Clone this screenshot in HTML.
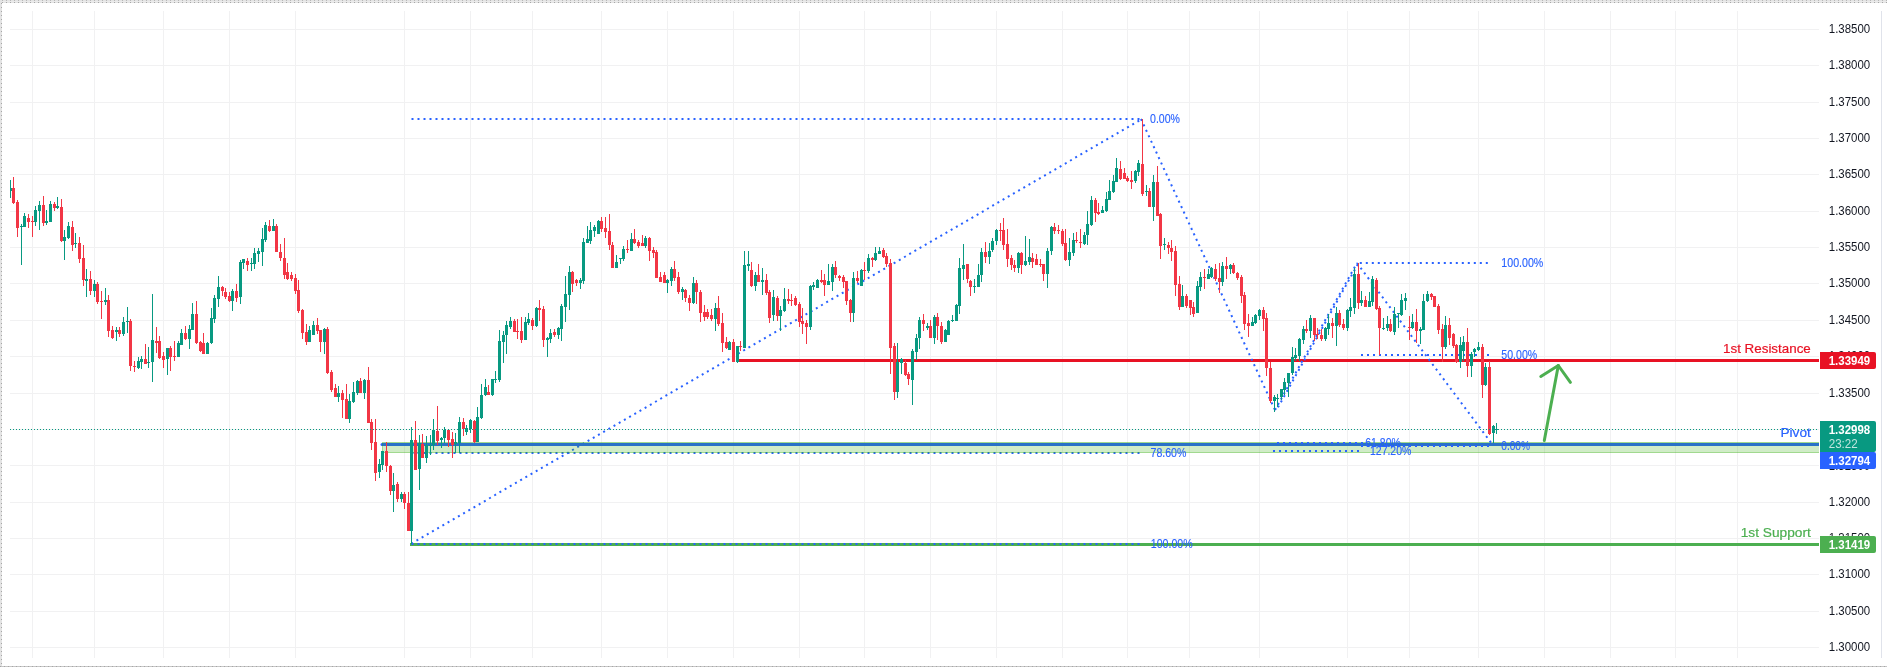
<!DOCTYPE html>
<html lang="en"><head><meta charset="utf-8"><title>GBPUSD chart</title>
<style>html,body{margin:0;padding:0;background:#fff}body{width:1887px;height:667px;overflow:hidden}svg{display:block;will-change:transform}text{font-family:"Liberation Sans",sans-serif}</style>
</head><body>
<svg width="1887" height="667" viewBox="0 0 1887 667">
<rect width="1887" height="667" fill="#fff"/>
<g shape-rendering="crispEdges">
<rect x="0" y="0" width="1887" height="3" fill="#e3e3e3"/>
<rect x="0" y="1" width="1887" height="1" fill="#ebebeb"/>
<rect x="0" y="0" width="2" height="667" fill="#e3e3e3"/>
<rect x="0" y="666" width="1887" height="1" fill="#c6c6c6"/>
<line x1="2" y1="2.5" x2="1887" y2="2.5" stroke="#a6a6a6" stroke-dasharray="1 3"/>
<line x1="0" y1="0.5" x2="1887" y2="0.5" stroke="#b8b8b8" stroke-dasharray="1 3" stroke-dashoffset="2"/>
<line x1="1.5" y1="3" x2="1.5" y2="667" stroke="#a6a6a6" stroke-dasharray="1 3"/>
<line x1="0" y1="666.5" x2="1887" y2="666.5" stroke="#a6a6a6" stroke-dasharray="1 3"/>
</g>
<g shape-rendering="crispEdges" fill="#f1f1f2">
<rect x="32" y="11" width="1" height="647"/>
<rect x="94" y="11" width="1" height="647"/>
<rect x="163" y="11" width="1" height="647"/>
<rect x="229" y="11" width="1" height="647"/>
<rect x="295" y="11" width="1" height="647"/>
<rect x="404" y="11" width="1" height="647"/>
<rect x="470" y="11" width="1" height="647"/>
<rect x="532" y="11" width="1" height="647"/>
<rect x="601" y="11" width="1" height="647"/>
<rect x="667" y="11" width="1" height="647"/>
<rect x="733" y="11" width="1" height="647"/>
<rect x="799" y="11" width="1" height="647"/>
<rect x="864" y="11" width="1" height="647"/>
<rect x="930" y="11" width="1" height="647"/>
<rect x="996" y="11" width="1" height="647"/>
<rect x="1062" y="11" width="1" height="647"/>
<rect x="1127" y="11" width="1" height="647"/>
<rect x="1189" y="11" width="1" height="647"/>
<rect x="1259" y="11" width="1" height="647"/>
<rect x="1347" y="11" width="1" height="647"/>
<rect x="1409" y="11" width="1" height="647"/>
<rect x="1478" y="11" width="1" height="647"/>
<rect x="1544" y="11" width="1" height="647"/>
<rect x="1610" y="11" width="1" height="647"/>
<rect x="1675" y="11" width="1" height="647"/>
<rect x="1737" y="11" width="1" height="647"/>
<rect x="10" y="29" width="1809" height="1"/>
<rect x="10" y="65" width="1809" height="1"/>
<rect x="10" y="102" width="1809" height="1"/>
<rect x="10" y="138" width="1809" height="1"/>
<rect x="10" y="174" width="1809" height="1"/>
<rect x="10" y="211" width="1809" height="1"/>
<rect x="10" y="247" width="1809" height="1"/>
<rect x="10" y="283" width="1809" height="1"/>
<rect x="10" y="320" width="1809" height="1"/>
<rect x="10" y="356" width="1809" height="1"/>
<rect x="10" y="393" width="1809" height="1"/>
<rect x="10" y="429" width="1809" height="1"/>
<rect x="10" y="465" width="1809" height="1"/>
<rect x="10" y="502" width="1809" height="1"/>
<rect x="10" y="538" width="1809" height="1"/>
<rect x="10" y="574" width="1809" height="1"/>
<rect x="10" y="611" width="1809" height="1"/>
<rect x="10" y="647" width="1809" height="1"/>
<rect x="1881" y="11" width="1" height="647" fill="#e0e3eb"/>
</g>
<g font-size="12.5" fill="#131722">
<text x="1828.8" y="33.1" textLength="41.4" lengthAdjust="spacingAndGlyphs">1.38500</text>
<text x="1828.8" y="69.1" textLength="41.4" lengthAdjust="spacingAndGlyphs">1.38000</text>
<text x="1828.8" y="106.1" textLength="41.4" lengthAdjust="spacingAndGlyphs">1.37500</text>
<text x="1828.8" y="142.1" textLength="41.4" lengthAdjust="spacingAndGlyphs">1.37000</text>
<text x="1828.8" y="178.1" textLength="41.4" lengthAdjust="spacingAndGlyphs">1.36500</text>
<text x="1828.8" y="215.1" textLength="41.4" lengthAdjust="spacingAndGlyphs">1.36000</text>
<text x="1828.8" y="251.1" textLength="41.4" lengthAdjust="spacingAndGlyphs">1.35500</text>
<text x="1828.8" y="287.1" textLength="41.4" lengthAdjust="spacingAndGlyphs">1.35000</text>
<text x="1828.8" y="324.1" textLength="41.4" lengthAdjust="spacingAndGlyphs">1.34500</text>
<text x="1828.8" y="360.1" textLength="41.4" lengthAdjust="spacingAndGlyphs">1.34000</text>
<text x="1828.8" y="397.1" textLength="41.4" lengthAdjust="spacingAndGlyphs">1.33500</text>
<text x="1828.8" y="433.1" textLength="41.4" lengthAdjust="spacingAndGlyphs">1.33000</text>
<text x="1828.8" y="469.8" textLength="41.4" lengthAdjust="spacingAndGlyphs">1.32500</text>
<text x="1828.8" y="506.1" textLength="41.4" lengthAdjust="spacingAndGlyphs">1.32000</text>
<text x="1828.8" y="542.1" textLength="41.4" lengthAdjust="spacingAndGlyphs">1.31500</text>
<text x="1828.8" y="578.1" textLength="41.4" lengthAdjust="spacingAndGlyphs">1.31000</text>
<text x="1828.8" y="615.1" textLength="41.4" lengthAdjust="spacingAndGlyphs">1.30500</text>
<text x="1828.8" y="651.1" textLength="41.4" lengthAdjust="spacingAndGlyphs">1.30000</text>
</g>
<g shape-rendering="crispEdges">
<rect x="737" y="359" width="1082" height="3" fill="#e81224"/>
<rect x="410" y="543" width="1409" height="3" fill="#4caf50"/>
</g>
<g stroke="#2962ff" stroke-width="2" stroke-dasharray="2 4" fill="none">
<line x1="410" y1="119" x2="1141" y2="119" stroke-dashoffset="-1.5"/>
<line x1="410" y1="544.5" x2="1141" y2="119.5" stroke-dashoffset="-1.5"/>
<line x1="410" y1="453" x2="1140" y2="453" stroke-dashoffset="-1.5"/>
<line x1="410" y1="544" x2="1140" y2="544" stroke-dashoffset="-1.5"/>
</g>
<line x1="382" y1="444.5" x2="1819" y2="444.5" stroke="#2962ff" stroke-width="3"/>
<circle cx="382" cy="444.5" r="1.5" fill="#2962ff"/>
<g shape-rendering="crispEdges" fill="rgb(41,169,0)">
<rect x="383" y="443" width="1436" height="9" fill-opacity="0.22"/>
<rect x="382" y="442" width="1437" height="1" fill-opacity="0.44"/>
<rect x="382" y="452" width="1437" height="1" fill-opacity="0.44"/>
<rect x="382" y="443" width="1" height="9" fill-opacity="0.44"/>
</g>
<g font-size="12" fill="#2962ff" stroke="#2962ff" stroke-width="0.12">
<text x="1150" y="122.9" textLength="30.0" lengthAdjust="spacingAndGlyphs">0.00%</text>
<text x="1150.5" y="457.4" textLength="35.9" lengthAdjust="spacingAndGlyphs">78.60%</text>
<text x="1150.8" y="548.3" textLength="41.9" lengthAdjust="spacingAndGlyphs">100.00%</text>
</g>
<g stroke="#2962ff" stroke-width="2" stroke-dasharray="2 4" fill="none">
<line x1="1141" y1="119" x2="1275" y2="410"/>
<line x1="1275" y1="410" x2="1357" y2="263"/>
<line x1="1276.5" y1="410" x2="1358.5" y2="263" stroke-dashoffset="3"/>
<line x1="1357" y1="263" x2="1492" y2="444"/>
<line x1="1357" y1="263" x2="1490" y2="263" stroke-dashoffset="-2.8"/>
<line x1="1361" y1="355" x2="1490" y2="355"/>
<line x1="1361" y1="446" x2="1490" y2="446"/>
<line x1="1277" y1="443" x2="1363" y2="443"/>
<line x1="1273" y1="451" x2="1360" y2="451"/>
</g>
<g font-size="12" fill="#2962ff" stroke="#2962ff" stroke-width="0.12">
<text x="1501.3" y="267.3" textLength="42.0" lengthAdjust="spacingAndGlyphs">100.00%</text>
<text x="1501.3" y="358.9" textLength="35.9" lengthAdjust="spacingAndGlyphs">50.00%</text>
<text x="1501.3" y="449.8" textLength="28.7" lengthAdjust="spacingAndGlyphs">0.00%</text>
<text x="1365.3" y="446.9" textLength="35.5" lengthAdjust="spacingAndGlyphs">61.80%</text>
<text x="1370" y="455.3" textLength="41.3" lengthAdjust="spacingAndGlyphs">127.20%</text>
</g>
<g shape-rendering="crispEdges">
<rect x="10" y="180" width="1" height="18" fill="#089981"/><rect x="10" y="188" width="2" height="3" fill="#089981"/>
<rect x="13" y="177" width="1" height="27" fill="#f23645"/><rect x="12" y="188" width="3" height="15" fill="#f23645"/>
<rect x="17" y="200" width="1" height="37" fill="#f23645"/><rect x="16" y="202" width="3" height="26" fill="#f23645"/>
<rect x="21" y="224" width="1" height="41" fill="#089981"/><rect x="20" y="226" width="3" height="1" fill="#089981"/>
<rect x="24" y="213" width="1" height="14" fill="#089981"/><rect x="23" y="216" width="3" height="11" fill="#089981"/>
<rect x="28" y="214" width="1" height="14" fill="#f23645"/><rect x="27" y="218" width="3" height="4" fill="#f23645"/>
<rect x="32" y="216" width="1" height="21" fill="#f23645"/><rect x="31" y="221" width="3" height="1" fill="#f23645"/>
<rect x="35" y="206" width="1" height="20" fill="#089981"/><rect x="34" y="210" width="3" height="12" fill="#089981"/>
<rect x="39" y="201" width="1" height="29" fill="#089981"/><rect x="38" y="205" width="3" height="6" fill="#089981"/>
<rect x="43" y="196" width="1" height="30" fill="#f23645"/><rect x="42" y="205" width="3" height="18" fill="#f23645"/>
<rect x="46" y="210" width="1" height="15" fill="#089981"/><rect x="45" y="221" width="3" height="2" fill="#089981"/>
<rect x="50" y="201" width="1" height="21" fill="#089981"/><rect x="49" y="204" width="3" height="18" fill="#089981"/>
<rect x="54" y="202" width="1" height="9" fill="#f23645"/><rect x="53" y="204" width="3" height="4" fill="#f23645"/>
<rect x="57" y="197" width="1" height="12" fill="#089981"/><rect x="56" y="206" width="3" height="2" fill="#089981"/>
<rect x="61" y="199" width="1" height="43" fill="#f23645"/><rect x="60" y="207" width="3" height="34" fill="#f23645"/>
<rect x="64" y="230" width="1" height="30" fill="#089981"/><rect x="63" y="237" width="3" height="4" fill="#089981"/>
<rect x="68" y="222" width="1" height="17" fill="#089981"/><rect x="67" y="226" width="3" height="12" fill="#089981"/>
<rect x="72" y="221" width="1" height="30" fill="#f23645"/><rect x="71" y="227" width="3" height="18" fill="#f23645"/>
<rect x="75" y="233" width="1" height="15" fill="#089981"/><rect x="74" y="243" width="3" height="1" fill="#089981"/>
<rect x="79" y="237" width="1" height="26" fill="#f23645"/><rect x="78" y="243" width="3" height="16" fill="#f23645"/>
<rect x="83" y="245" width="1" height="41" fill="#f23645"/><rect x="82" y="258" width="3" height="22" fill="#f23645"/>
<rect x="86" y="269" width="1" height="28" fill="#089981"/><rect x="85" y="279" width="3" height="2" fill="#089981"/>
<rect x="90" y="271" width="1" height="24" fill="#f23645"/><rect x="89" y="279" width="3" height="12" fill="#f23645"/>
<rect x="94" y="280" width="1" height="17" fill="#089981"/><rect x="93" y="284" width="3" height="7" fill="#089981"/>
<rect x="97" y="282" width="1" height="22" fill="#f23645"/><rect x="96" y="284" width="3" height="18" fill="#f23645"/>
<rect x="101" y="291" width="1" height="28" fill="#f23645"/><rect x="100" y="301" width="3" height="1" fill="#f23645"/>
<rect x="105" y="288" width="1" height="17" fill="#089981"/><rect x="104" y="300" width="3" height="2" fill="#089981"/>
<rect x="108" y="295" width="1" height="42" fill="#f23645"/><rect x="107" y="300" width="3" height="31" fill="#f23645"/>
<rect x="112" y="326" width="1" height="13" fill="#f23645"/><rect x="111" y="330" width="3" height="8" fill="#f23645"/>
<rect x="116" y="327" width="1" height="14" fill="#089981"/><rect x="115" y="330" width="3" height="2" fill="#089981"/>
<rect x="119" y="327" width="1" height="10" fill="#f23645"/><rect x="118" y="330" width="3" height="4" fill="#f23645"/>
<rect x="123" y="317" width="1" height="19" fill="#089981"/><rect x="122" y="322" width="3" height="12" fill="#089981"/>
<rect x="127" y="307" width="1" height="26" fill="#089981"/><rect x="126" y="321" width="3" height="1" fill="#089981"/>
<rect x="130" y="319" width="1" height="52" fill="#f23645"/><rect x="129" y="321" width="3" height="45" fill="#f23645"/>
<rect x="134" y="361" width="1" height="11" fill="#f23645"/><rect x="133" y="366" width="3" height="1" fill="#f23645"/>
<rect x="138" y="357" width="1" height="12" fill="#089981"/><rect x="137" y="361" width="3" height="7" fill="#089981"/>
<rect x="141" y="356" width="1" height="13" fill="#089981"/><rect x="140" y="359" width="3" height="3" fill="#089981"/>
<rect x="145" y="344" width="1" height="20" fill="#f23645"/><rect x="144" y="359" width="3" height="5" fill="#f23645"/>
<rect x="148" y="347" width="1" height="21" fill="#089981"/><rect x="147" y="362" width="3" height="1" fill="#089981"/>
<rect x="152" y="294" width="1" height="88" fill="#089981"/><rect x="151" y="340" width="3" height="22" fill="#089981"/>
<rect x="156" y="327" width="1" height="26" fill="#f23645"/><rect x="155" y="341" width="3" height="2" fill="#f23645"/>
<rect x="159" y="336" width="1" height="23" fill="#f23645"/><rect x="158" y="341" width="3" height="17" fill="#f23645"/>
<rect x="163" y="352" width="1" height="16" fill="#f23645"/><rect x="162" y="356" width="3" height="4" fill="#f23645"/>
<rect x="167" y="348" width="1" height="27" fill="#089981"/><rect x="166" y="348" width="3" height="11" fill="#089981"/>
<rect x="170" y="346" width="1" height="25" fill="#f23645"/><rect x="169" y="348" width="3" height="9" fill="#f23645"/>
<rect x="174" y="341" width="1" height="20" fill="#f23645"/><rect x="173" y="356" width="3" height="1" fill="#f23645"/>
<rect x="178" y="341" width="1" height="16" fill="#089981"/><rect x="177" y="343" width="3" height="14" fill="#089981"/>
<rect x="181" y="329" width="1" height="16" fill="#089981"/><rect x="180" y="333" width="3" height="12" fill="#089981"/>
<rect x="185" y="326" width="1" height="14" fill="#f23645"/><rect x="184" y="333" width="3" height="6" fill="#f23645"/>
<rect x="189" y="325" width="1" height="24" fill="#089981"/><rect x="188" y="329" width="3" height="10" fill="#089981"/>
<rect x="192" y="303" width="1" height="27" fill="#089981"/><rect x="191" y="314" width="3" height="16" fill="#089981"/>
<rect x="196" y="301" width="1" height="43" fill="#f23645"/><rect x="195" y="314" width="3" height="29" fill="#f23645"/>
<rect x="200" y="341" width="1" height="11" fill="#f23645"/><rect x="199" y="342" width="3" height="9" fill="#f23645"/>
<rect x="203" y="333" width="1" height="21" fill="#f23645"/><rect x="202" y="343" width="3" height="11" fill="#f23645"/>
<rect x="207" y="342" width="1" height="12" fill="#089981"/><rect x="206" y="343" width="3" height="11" fill="#089981"/>
<rect x="211" y="308" width="1" height="36" fill="#089981"/><rect x="210" y="318" width="3" height="25" fill="#089981"/>
<rect x="214" y="295" width="1" height="28" fill="#089981"/><rect x="213" y="298" width="3" height="21" fill="#089981"/>
<rect x="218" y="276" width="1" height="31" fill="#089981"/><rect x="217" y="287" width="3" height="12" fill="#089981"/>
<rect x="222" y="286" width="1" height="10" fill="#f23645"/><rect x="221" y="287" width="3" height="4" fill="#f23645"/>
<rect x="225" y="288" width="1" height="11" fill="#f23645"/><rect x="224" y="292" width="3" height="5" fill="#f23645"/>
<rect x="229" y="292" width="1" height="10" fill="#f23645"/><rect x="228" y="296" width="3" height="5" fill="#f23645"/>
<rect x="232" y="289" width="1" height="22" fill="#089981"/><rect x="231" y="291" width="3" height="10" fill="#089981"/>
<rect x="236" y="284" width="1" height="18" fill="#f23645"/><rect x="235" y="291" width="3" height="7" fill="#f23645"/>
<rect x="240" y="260" width="1" height="44" fill="#089981"/><rect x="239" y="262" width="3" height="35" fill="#089981"/>
<rect x="243" y="259" width="1" height="10" fill="#089981"/><rect x="242" y="259" width="3" height="4" fill="#089981"/>
<rect x="247" y="258" width="1" height="13" fill="#f23645"/><rect x="246" y="261" width="3" height="4" fill="#f23645"/>
<rect x="251" y="258" width="1" height="13" fill="#089981"/><rect x="250" y="263" width="3" height="1" fill="#089981"/>
<rect x="254" y="248" width="1" height="21" fill="#089981"/><rect x="253" y="253" width="3" height="11" fill="#089981"/>
<rect x="258" y="248" width="1" height="14" fill="#089981"/><rect x="257" y="251" width="3" height="3" fill="#089981"/>
<rect x="262" y="228" width="1" height="38" fill="#089981"/><rect x="261" y="239" width="3" height="13" fill="#089981"/>
<rect x="265" y="222" width="1" height="20" fill="#089981"/><rect x="264" y="225" width="3" height="15" fill="#089981"/>
<rect x="269" y="220" width="1" height="12" fill="#f23645"/><rect x="268" y="226" width="3" height="5" fill="#f23645"/>
<rect x="273" y="219" width="1" height="12" fill="#089981"/><rect x="272" y="226" width="3" height="5" fill="#089981"/>
<rect x="276" y="224" width="1" height="28" fill="#f23645"/><rect x="275" y="226" width="3" height="26" fill="#f23645"/>
<rect x="280" y="244" width="1" height="17" fill="#f23645"/><rect x="279" y="252" width="3" height="6" fill="#f23645"/>
<rect x="284" y="238" width="1" height="41" fill="#f23645"/><rect x="283" y="258" width="3" height="17" fill="#f23645"/>
<rect x="287" y="263" width="1" height="17" fill="#f23645"/><rect x="286" y="272" width="3" height="7" fill="#f23645"/>
<rect x="291" y="272" width="1" height="9" fill="#f23645"/><rect x="290" y="275" width="3" height="4" fill="#f23645"/>
<rect x="295" y="274" width="1" height="20" fill="#f23645"/><rect x="294" y="278" width="3" height="13" fill="#f23645"/>
<rect x="298" y="280" width="1" height="33" fill="#f23645"/><rect x="297" y="290" width="3" height="21" fill="#f23645"/>
<rect x="302" y="309" width="1" height="30" fill="#f23645"/><rect x="301" y="310" width="3" height="23" fill="#f23645"/>
<rect x="306" y="324" width="1" height="21" fill="#f23645"/><rect x="305" y="332" width="3" height="10" fill="#f23645"/>
<rect x="309" y="326" width="1" height="16" fill="#089981"/><rect x="308" y="330" width="3" height="12" fill="#089981"/>
<rect x="313" y="321" width="1" height="14" fill="#089981"/><rect x="312" y="325" width="3" height="10" fill="#089981"/>
<rect x="317" y="318" width="1" height="16" fill="#f23645"/><rect x="316" y="325" width="3" height="6" fill="#f23645"/>
<rect x="320" y="330" width="1" height="22" fill="#f23645"/><rect x="319" y="330" width="3" height="12" fill="#f23645"/>
<rect x="324" y="328" width="1" height="26" fill="#089981"/><rect x="323" y="329" width="3" height="13" fill="#089981"/>
<rect x="327" y="327" width="1" height="47" fill="#f23645"/><rect x="326" y="329" width="3" height="44" fill="#f23645"/>
<rect x="331" y="370" width="1" height="22" fill="#f23645"/><rect x="330" y="372" width="3" height="18" fill="#f23645"/>
<rect x="335" y="384" width="1" height="13" fill="#f23645"/><rect x="334" y="388" width="3" height="9" fill="#f23645"/>
<rect x="338" y="386" width="1" height="16" fill="#089981"/><rect x="337" y="393" width="3" height="4" fill="#089981"/>
<rect x="342" y="390" width="1" height="28" fill="#f23645"/><rect x="341" y="393" width="3" height="7" fill="#f23645"/>
<rect x="346" y="384" width="1" height="35" fill="#f23645"/><rect x="345" y="399" width="3" height="20" fill="#f23645"/>
<rect x="349" y="394" width="1" height="29" fill="#089981"/><rect x="348" y="401" width="3" height="18" fill="#089981"/>
<rect x="353" y="382" width="1" height="21" fill="#089981"/><rect x="352" y="392" width="3" height="10" fill="#089981"/>
<rect x="357" y="380" width="1" height="15" fill="#089981"/><rect x="356" y="381" width="3" height="12" fill="#089981"/>
<rect x="360" y="378" width="1" height="15" fill="#f23645"/><rect x="359" y="381" width="3" height="12" fill="#f23645"/>
<rect x="364" y="379" width="1" height="20" fill="#089981"/><rect x="363" y="380" width="3" height="13" fill="#089981"/>
<rect x="368" y="367" width="1" height="56" fill="#f23645"/><rect x="367" y="380" width="3" height="43" fill="#f23645"/>
<rect x="371" y="419" width="1" height="31" fill="#f23645"/><rect x="370" y="422" width="3" height="21" fill="#f23645"/>
<rect x="375" y="419" width="1" height="62" fill="#f23645"/><rect x="374" y="442" width="3" height="31" fill="#f23645"/>
<rect x="379" y="459" width="1" height="19" fill="#089981"/><rect x="378" y="464" width="3" height="8" fill="#089981"/>
<rect x="382" y="451" width="1" height="19" fill="#089981"/><rect x="381" y="451" width="3" height="14" fill="#089981"/>
<rect x="386" y="442" width="1" height="30" fill="#f23645"/><rect x="385" y="451" width="3" height="15" fill="#f23645"/>
<rect x="390" y="465" width="1" height="30" fill="#f23645"/><rect x="389" y="466" width="3" height="25" fill="#f23645"/>
<rect x="393" y="473" width="1" height="39" fill="#089981"/><rect x="392" y="485" width="3" height="6" fill="#089981"/>
<rect x="397" y="482" width="1" height="20" fill="#f23645"/><rect x="396" y="484" width="3" height="15" fill="#f23645"/>
<rect x="401" y="492" width="1" height="10" fill="#089981"/><rect x="400" y="494" width="3" height="5" fill="#089981"/>
<rect x="404" y="492" width="1" height="17" fill="#f23645"/><rect x="403" y="494" width="3" height="9" fill="#f23645"/>
<rect x="408" y="492" width="1" height="39" fill="#f23645"/><rect x="407" y="503" width="3" height="28" fill="#f23645"/>
<rect x="411" y="427" width="1" height="117" fill="#089981"/><rect x="410" y="440" width="3" height="91" fill="#089981"/>
<rect x="415" y="421" width="1" height="49" fill="#f23645"/><rect x="414" y="440" width="3" height="30" fill="#f23645"/>
<rect x="419" y="435" width="1" height="55" fill="#089981"/><rect x="418" y="443" width="3" height="26" fill="#089981"/>
<rect x="422" y="434" width="1" height="24" fill="#f23645"/><rect x="421" y="444" width="3" height="14" fill="#f23645"/>
<rect x="426" y="436" width="1" height="27" fill="#089981"/><rect x="425" y="445" width="3" height="13" fill="#089981"/>
<rect x="430" y="435" width="1" height="20" fill="#089981"/><rect x="429" y="445" width="3" height="1" fill="#089981"/>
<rect x="433" y="419" width="1" height="31" fill="#089981"/><rect x="432" y="430" width="3" height="15" fill="#089981"/>
<rect x="437" y="406" width="1" height="39" fill="#f23645"/><rect x="436" y="431" width="3" height="10" fill="#f23645"/>
<rect x="441" y="437" width="1" height="11" fill="#089981"/><rect x="440" y="438" width="3" height="2" fill="#089981"/>
<rect x="444" y="427" width="1" height="16" fill="#089981"/><rect x="443" y="430" width="3" height="8" fill="#089981"/>
<rect x="448" y="429" width="1" height="18" fill="#f23645"/><rect x="447" y="430" width="3" height="10" fill="#f23645"/>
<rect x="452" y="432" width="1" height="26" fill="#f23645"/><rect x="451" y="439" width="3" height="6" fill="#f23645"/>
<rect x="455" y="433" width="1" height="20" fill="#089981"/><rect x="454" y="442" width="3" height="2" fill="#089981"/>
<rect x="459" y="417" width="1" height="36" fill="#089981"/><rect x="458" y="422" width="3" height="21" fill="#089981"/>
<rect x="463" y="418" width="1" height="18" fill="#f23645"/><rect x="462" y="422" width="3" height="7" fill="#f23645"/>
<rect x="466" y="425" width="1" height="10" fill="#089981"/><rect x="465" y="428" width="3" height="4" fill="#089981"/>
<rect x="470" y="419" width="1" height="14" fill="#089981"/><rect x="469" y="420" width="3" height="9" fill="#089981"/>
<rect x="474" y="420" width="1" height="23" fill="#f23645"/><rect x="473" y="421" width="3" height="21" fill="#f23645"/>
<rect x="477" y="407" width="1" height="35" fill="#089981"/><rect x="476" y="417" width="3" height="25" fill="#089981"/>
<rect x="481" y="384" width="1" height="35" fill="#089981"/><rect x="480" y="395" width="3" height="23" fill="#089981"/>
<rect x="485" y="379" width="1" height="17" fill="#089981"/><rect x="484" y="387" width="3" height="8" fill="#089981"/>
<rect x="488" y="385" width="1" height="10" fill="#f23645"/><rect x="487" y="392" width="3" height="3" fill="#f23645"/>
<rect x="492" y="379" width="1" height="17" fill="#089981"/><rect x="491" y="379" width="3" height="16" fill="#089981"/>
<rect x="495" y="371" width="1" height="12" fill="#089981"/><rect x="494" y="379" width="3" height="1" fill="#089981"/>
<rect x="499" y="330" width="1" height="52" fill="#089981"/><rect x="498" y="341" width="3" height="39" fill="#089981"/>
<rect x="503" y="331" width="1" height="32" fill="#089981"/><rect x="502" y="335" width="3" height="7" fill="#089981"/>
<rect x="506" y="321" width="1" height="33" fill="#089981"/><rect x="505" y="325" width="3" height="10" fill="#089981"/>
<rect x="510" y="317" width="1" height="12" fill="#089981"/><rect x="509" y="321" width="3" height="6" fill="#089981"/>
<rect x="514" y="319" width="1" height="13" fill="#f23645"/><rect x="513" y="321" width="3" height="11" fill="#f23645"/>
<rect x="517" y="319" width="1" height="20" fill="#f23645"/><rect x="516" y="331" width="3" height="1" fill="#f23645"/>
<rect x="521" y="317" width="1" height="26" fill="#f23645"/><rect x="520" y="331" width="3" height="9" fill="#f23645"/>
<rect x="525" y="317" width="1" height="23" fill="#089981"/><rect x="524" y="322" width="3" height="18" fill="#089981"/>
<rect x="528" y="313" width="1" height="12" fill="#089981"/><rect x="527" y="319" width="3" height="4" fill="#089981"/>
<rect x="532" y="318" width="1" height="12" fill="#f23645"/><rect x="531" y="320" width="3" height="6" fill="#f23645"/>
<rect x="536" y="307" width="1" height="20" fill="#089981"/><rect x="535" y="308" width="3" height="18" fill="#089981"/>
<rect x="539" y="300" width="1" height="21" fill="#f23645"/><rect x="538" y="308" width="3" height="2" fill="#f23645"/>
<rect x="543" y="306" width="1" height="41" fill="#f23645"/><rect x="542" y="309" width="3" height="31" fill="#f23645"/>
<rect x="547" y="337" width="1" height="20" fill="#089981"/><rect x="546" y="338" width="3" height="2" fill="#089981"/>
<rect x="550" y="329" width="1" height="14" fill="#089981"/><rect x="549" y="333" width="3" height="6" fill="#089981"/>
<rect x="554" y="329" width="1" height="8" fill="#f23645"/><rect x="553" y="332" width="3" height="3" fill="#f23645"/>
<rect x="558" y="327" width="1" height="12" fill="#089981"/><rect x="557" y="328" width="3" height="7" fill="#089981"/>
<rect x="561" y="304" width="1" height="37" fill="#089981"/><rect x="560" y="306" width="3" height="23" fill="#089981"/>
<rect x="565" y="276" width="1" height="46" fill="#089981"/><rect x="564" y="294" width="3" height="13" fill="#089981"/>
<rect x="569" y="266" width="1" height="44" fill="#089981"/><rect x="568" y="272" width="3" height="23" fill="#089981"/>
<rect x="572" y="271" width="1" height="21" fill="#f23645"/><rect x="571" y="272" width="3" height="12" fill="#f23645"/>
<rect x="576" y="279" width="1" height="7" fill="#f23645"/><rect x="575" y="280" width="3" height="3" fill="#f23645"/>
<rect x="580" y="278" width="1" height="11" fill="#089981"/><rect x="579" y="280" width="3" height="3" fill="#089981"/>
<rect x="583" y="238" width="1" height="46" fill="#089981"/><rect x="582" y="242" width="3" height="39" fill="#089981"/>
<rect x="587" y="226" width="1" height="17" fill="#089981"/><rect x="586" y="239" width="3" height="4" fill="#089981"/>
<rect x="590" y="222" width="1" height="22" fill="#089981"/><rect x="589" y="230" width="3" height="11" fill="#089981"/>
<rect x="594" y="225" width="1" height="12" fill="#089981"/><rect x="593" y="227" width="3" height="4" fill="#089981"/>
<rect x="598" y="220" width="1" height="14" fill="#089981"/><rect x="597" y="221" width="3" height="13" fill="#089981"/>
<rect x="601" y="217" width="1" height="15" fill="#f23645"/><rect x="600" y="221" width="3" height="8" fill="#f23645"/>
<rect x="605" y="217" width="1" height="21" fill="#f23645"/><rect x="604" y="228" width="3" height="4" fill="#f23645"/>
<rect x="609" y="214" width="1" height="36" fill="#f23645"/><rect x="608" y="231" width="3" height="14" fill="#f23645"/>
<rect x="612" y="242" width="1" height="26" fill="#f23645"/><rect x="611" y="245" width="3" height="23" fill="#f23645"/>
<rect x="616" y="255" width="1" height="13" fill="#089981"/><rect x="615" y="262" width="3" height="6" fill="#089981"/>
<rect x="620" y="258" width="1" height="6" fill="#089981"/><rect x="619" y="258" width="3" height="1" fill="#089981"/>
<rect x="623" y="246" width="1" height="15" fill="#089981"/><rect x="622" y="249" width="3" height="10" fill="#089981"/>
<rect x="627" y="240" width="1" height="13" fill="#f23645"/><rect x="626" y="249" width="3" height="1" fill="#f23645"/>
<rect x="631" y="233" width="1" height="18" fill="#089981"/><rect x="630" y="239" width="3" height="12" fill="#089981"/>
<rect x="634" y="229" width="1" height="15" fill="#f23645"/><rect x="633" y="239" width="3" height="4" fill="#f23645"/>
<rect x="638" y="240" width="1" height="8" fill="#f23645"/><rect x="637" y="242" width="3" height="4" fill="#f23645"/>
<rect x="642" y="235" width="1" height="11" fill="#f23645"/><rect x="641" y="243" width="3" height="3" fill="#f23645"/>
<rect x="645" y="236" width="1" height="12" fill="#089981"/><rect x="644" y="238" width="3" height="8" fill="#089981"/>
<rect x="649" y="237" width="1" height="24" fill="#f23645"/><rect x="648" y="238" width="3" height="13" fill="#f23645"/>
<rect x="653" y="247" width="1" height="11" fill="#f23645"/><rect x="652" y="250" width="3" height="3" fill="#f23645"/>
<rect x="656" y="250" width="1" height="28" fill="#f23645"/><rect x="655" y="252" width="3" height="26" fill="#f23645"/>
<rect x="660" y="272" width="1" height="10" fill="#f23645"/><rect x="659" y="277" width="3" height="5" fill="#f23645"/>
<rect x="664" y="272" width="1" height="11" fill="#f23645"/><rect x="663" y="275" width="3" height="8" fill="#f23645"/>
<rect x="667" y="279" width="1" height="14" fill="#089981"/><rect x="666" y="280" width="3" height="3" fill="#089981"/>
<rect x="671" y="267" width="1" height="19" fill="#089981"/><rect x="670" y="269" width="3" height="12" fill="#089981"/>
<rect x="674" y="261" width="1" height="20" fill="#f23645"/><rect x="673" y="269" width="3" height="9" fill="#f23645"/>
<rect x="678" y="272" width="1" height="22" fill="#f23645"/><rect x="677" y="277" width="3" height="15" fill="#f23645"/>
<rect x="682" y="287" width="1" height="13" fill="#089981"/><rect x="681" y="289" width="3" height="3" fill="#089981"/>
<rect x="685" y="289" width="1" height="13" fill="#f23645"/><rect x="684" y="290" width="3" height="8" fill="#f23645"/>
<rect x="689" y="295" width="1" height="16" fill="#f23645"/><rect x="688" y="298" width="3" height="5" fill="#f23645"/>
<rect x="693" y="277" width="1" height="27" fill="#089981"/><rect x="692" y="283" width="3" height="20" fill="#089981"/>
<rect x="696" y="280" width="1" height="24" fill="#f23645"/><rect x="695" y="283" width="3" height="9" fill="#f23645"/>
<rect x="700" y="290" width="1" height="32" fill="#f23645"/><rect x="699" y="292" width="3" height="21" fill="#f23645"/>
<rect x="704" y="305" width="1" height="16" fill="#f23645"/><rect x="703" y="312" width="3" height="5" fill="#f23645"/>
<rect x="707" y="309" width="1" height="10" fill="#f23645"/><rect x="706" y="312" width="3" height="5" fill="#f23645"/>
<rect x="711" y="309" width="1" height="12" fill="#f23645"/><rect x="710" y="315" width="3" height="4" fill="#f23645"/>
<rect x="715" y="303" width="1" height="28" fill="#089981"/><rect x="714" y="308" width="3" height="11" fill="#089981"/>
<rect x="718" y="296" width="1" height="30" fill="#f23645"/><rect x="717" y="308" width="3" height="16" fill="#f23645"/>
<rect x="722" y="313" width="1" height="39" fill="#f23645"/><rect x="721" y="323" width="3" height="20" fill="#f23645"/>
<rect x="726" y="337" width="1" height="12" fill="#f23645"/><rect x="725" y="342" width="3" height="6" fill="#f23645"/>
<rect x="729" y="341" width="1" height="9" fill="#089981"/><rect x="728" y="342" width="3" height="8" fill="#089981"/>
<rect x="733" y="339" width="1" height="23" fill="#f23645"/><rect x="732" y="342" width="3" height="20" fill="#f23645"/>
<rect x="737" y="346" width="1" height="17" fill="#089981"/><rect x="736" y="346" width="3" height="16" fill="#089981"/>
<rect x="740" y="341" width="1" height="10" fill="#f23645"/><rect x="739" y="346" width="3" height="1" fill="#f23645"/>
<rect x="744" y="251" width="1" height="97" fill="#089981"/><rect x="743" y="265" width="3" height="83" fill="#089981"/>
<rect x="748" y="251" width="1" height="20" fill="#089981"/><rect x="747" y="264" width="3" height="2" fill="#089981"/>
<rect x="751" y="262" width="1" height="25" fill="#f23645"/><rect x="750" y="270" width="3" height="16" fill="#f23645"/>
<rect x="755" y="272" width="1" height="19" fill="#089981"/><rect x="754" y="275" width="3" height="11" fill="#089981"/>
<rect x="758" y="264" width="1" height="18" fill="#f23645"/><rect x="757" y="275" width="3" height="7" fill="#f23645"/>
<rect x="762" y="268" width="1" height="27" fill="#089981"/><rect x="761" y="280" width="3" height="2" fill="#089981"/>
<rect x="766" y="274" width="1" height="21" fill="#f23645"/><rect x="765" y="280" width="3" height="13" fill="#f23645"/>
<rect x="769" y="290" width="1" height="33" fill="#f23645"/><rect x="768" y="292" width="3" height="26" fill="#f23645"/>
<rect x="773" y="290" width="1" height="31" fill="#089981"/><rect x="772" y="297" width="3" height="18" fill="#089981"/>
<rect x="777" y="296" width="1" height="25" fill="#f23645"/><rect x="776" y="298" width="3" height="18" fill="#f23645"/>
<rect x="780" y="306" width="1" height="25" fill="#089981"/><rect x="779" y="310" width="3" height="6" fill="#089981"/>
<rect x="784" y="288" width="1" height="24" fill="#089981"/><rect x="783" y="299" width="3" height="12" fill="#089981"/>
<rect x="788" y="289" width="1" height="15" fill="#f23645"/><rect x="787" y="299" width="3" height="2" fill="#f23645"/>
<rect x="791" y="294" width="1" height="12" fill="#f23645"/><rect x="790" y="300" width="3" height="1" fill="#f23645"/>
<rect x="795" y="296" width="1" height="10" fill="#f23645"/><rect x="794" y="298" width="3" height="7" fill="#f23645"/>
<rect x="799" y="302" width="1" height="25" fill="#f23645"/><rect x="798" y="304" width="3" height="18" fill="#f23645"/>
<rect x="802" y="308" width="1" height="26" fill="#f23645"/><rect x="801" y="321" width="3" height="3" fill="#f23645"/>
<rect x="806" y="320" width="1" height="24" fill="#f23645"/><rect x="805" y="323" width="3" height="4" fill="#f23645"/>
<rect x="810" y="285" width="1" height="45" fill="#089981"/><rect x="809" y="286" width="3" height="41" fill="#089981"/>
<rect x="813" y="282" width="1" height="8" fill="#089981"/><rect x="812" y="285" width="3" height="2" fill="#089981"/>
<rect x="817" y="279" width="1" height="9" fill="#089981"/><rect x="816" y="280" width="3" height="8" fill="#089981"/>
<rect x="821" y="270" width="1" height="13" fill="#f23645"/><rect x="820" y="280" width="3" height="2" fill="#f23645"/>
<rect x="824" y="274" width="1" height="22" fill="#f23645"/><rect x="823" y="280" width="3" height="5" fill="#f23645"/>
<rect x="828" y="264" width="1" height="21" fill="#089981"/><rect x="827" y="281" width="3" height="4" fill="#089981"/>
<rect x="832" y="264" width="1" height="27" fill="#089981"/><rect x="831" y="267" width="3" height="15" fill="#089981"/>
<rect x="835" y="261" width="1" height="17" fill="#f23645"/><rect x="834" y="267" width="3" height="8" fill="#f23645"/>
<rect x="839" y="275" width="1" height="6" fill="#f23645"/><rect x="838" y="276" width="3" height="2" fill="#f23645"/>
<rect x="843" y="275" width="1" height="13" fill="#f23645"/><rect x="842" y="277" width="3" height="5" fill="#f23645"/>
<rect x="846" y="281" width="1" height="24" fill="#f23645"/><rect x="845" y="281" width="3" height="20" fill="#f23645"/>
<rect x="850" y="299" width="1" height="23" fill="#f23645"/><rect x="849" y="300" width="3" height="13" fill="#f23645"/>
<rect x="853" y="272" width="1" height="50" fill="#089981"/><rect x="852" y="278" width="3" height="35" fill="#089981"/>
<rect x="857" y="271" width="1" height="12" fill="#f23645"/><rect x="856" y="278" width="3" height="3" fill="#f23645"/>
<rect x="861" y="269" width="1" height="17" fill="#089981"/><rect x="860" y="270" width="3" height="16" fill="#089981"/>
<rect x="864" y="262" width="1" height="18" fill="#f23645"/><rect x="863" y="270" width="3" height="1" fill="#f23645"/>
<rect x="868" y="254" width="1" height="19" fill="#089981"/><rect x="867" y="258" width="3" height="13" fill="#089981"/>
<rect x="872" y="257" width="1" height="10" fill="#f23645"/><rect x="871" y="258" width="3" height="2" fill="#f23645"/>
<rect x="875" y="247" width="1" height="14" fill="#089981"/><rect x="874" y="253" width="3" height="7" fill="#089981"/>
<rect x="879" y="247" width="1" height="7" fill="#089981"/><rect x="878" y="251" width="3" height="3" fill="#089981"/>
<rect x="883" y="248" width="1" height="10" fill="#f23645"/><rect x="882" y="250" width="3" height="7" fill="#f23645"/>
<rect x="886" y="253" width="1" height="14" fill="#f23645"/><rect x="885" y="256" width="3" height="8" fill="#f23645"/>
<rect x="890" y="259" width="1" height="115" fill="#f23645"/><rect x="889" y="263" width="3" height="85" fill="#f23645"/>
<rect x="894" y="343" width="1" height="57" fill="#f23645"/><rect x="893" y="346" width="3" height="46" fill="#f23645"/>
<rect x="897" y="343" width="1" height="55" fill="#089981"/><rect x="896" y="362" width="3" height="30" fill="#089981"/>
<rect x="901" y="358" width="1" height="16" fill="#089981"/><rect x="900" y="359" width="3" height="4" fill="#089981"/>
<rect x="905" y="360" width="1" height="16" fill="#f23645"/><rect x="904" y="363" width="3" height="12" fill="#f23645"/>
<rect x="908" y="372" width="1" height="13" fill="#f23645"/><rect x="907" y="374" width="3" height="5" fill="#f23645"/>
<rect x="912" y="349" width="1" height="56" fill="#089981"/><rect x="911" y="351" width="3" height="29" fill="#089981"/>
<rect x="916" y="334" width="1" height="26" fill="#089981"/><rect x="915" y="338" width="3" height="14" fill="#089981"/>
<rect x="919" y="317" width="1" height="32" fill="#089981"/><rect x="918" y="320" width="3" height="18" fill="#089981"/>
<rect x="923" y="314" width="1" height="17" fill="#f23645"/><rect x="922" y="320" width="3" height="4" fill="#f23645"/>
<rect x="927" y="323" width="1" height="7" fill="#089981"/><rect x="926" y="326" width="3" height="2" fill="#089981"/>
<rect x="930" y="320" width="1" height="18" fill="#f23645"/><rect x="929" y="326" width="3" height="12" fill="#f23645"/>
<rect x="934" y="315" width="1" height="29" fill="#089981"/><rect x="933" y="317" width="3" height="21" fill="#089981"/>
<rect x="937" y="313" width="1" height="27" fill="#f23645"/><rect x="936" y="317" width="3" height="9" fill="#f23645"/>
<rect x="941" y="322" width="1" height="22" fill="#f23645"/><rect x="940" y="326" width="3" height="16" fill="#f23645"/>
<rect x="945" y="329" width="1" height="13" fill="#089981"/><rect x="944" y="330" width="3" height="12" fill="#089981"/>
<rect x="948" y="320" width="1" height="15" fill="#089981"/><rect x="947" y="321" width="3" height="14" fill="#089981"/>
<rect x="952" y="315" width="1" height="7" fill="#089981"/><rect x="951" y="320" width="3" height="1" fill="#089981"/>
<rect x="956" y="304" width="1" height="17" fill="#089981"/><rect x="955" y="305" width="3" height="16" fill="#089981"/>
<rect x="959" y="258" width="1" height="56" fill="#089981"/><rect x="958" y="268" width="3" height="38" fill="#089981"/>
<rect x="963" y="244" width="1" height="36" fill="#089981"/><rect x="962" y="265" width="3" height="4" fill="#089981"/>
<rect x="967" y="264" width="1" height="19" fill="#f23645"/><rect x="966" y="264" width="3" height="15" fill="#f23645"/>
<rect x="970" y="280" width="1" height="16" fill="#f23645"/><rect x="969" y="281" width="3" height="6" fill="#f23645"/>
<rect x="974" y="279" width="1" height="14" fill="#089981"/><rect x="973" y="286" width="3" height="1" fill="#089981"/>
<rect x="978" y="264" width="1" height="23" fill="#089981"/><rect x="977" y="275" width="3" height="12" fill="#089981"/>
<rect x="981" y="248" width="1" height="34" fill="#089981"/><rect x="980" y="252" width="3" height="23" fill="#089981"/>
<rect x="985" y="242" width="1" height="21" fill="#f23645"/><rect x="984" y="252" width="3" height="5" fill="#f23645"/>
<rect x="989" y="243" width="1" height="21" fill="#089981"/><rect x="988" y="251" width="3" height="6" fill="#089981"/>
<rect x="992" y="238" width="1" height="14" fill="#089981"/><rect x="991" y="241" width="3" height="9" fill="#089981"/>
<rect x="996" y="229" width="1" height="16" fill="#089981"/><rect x="995" y="230" width="3" height="11" fill="#089981"/>
<rect x="1000" y="223" width="1" height="18" fill="#f23645"/><rect x="999" y="230" width="3" height="1" fill="#f23645"/>
<rect x="1003" y="218" width="1" height="32" fill="#f23645"/><rect x="1002" y="230" width="3" height="15" fill="#f23645"/>
<rect x="1007" y="229" width="1" height="38" fill="#f23645"/><rect x="1006" y="244" width="3" height="15" fill="#f23645"/>
<rect x="1011" y="255" width="1" height="15" fill="#f23645"/><rect x="1010" y="258" width="3" height="7" fill="#f23645"/>
<rect x="1014" y="260" width="1" height="12" fill="#f23645"/><rect x="1013" y="265" width="3" height="3" fill="#f23645"/>
<rect x="1018" y="252" width="1" height="21" fill="#089981"/><rect x="1017" y="253" width="3" height="15" fill="#089981"/>
<rect x="1021" y="252" width="1" height="22" fill="#f23645"/><rect x="1020" y="253" width="3" height="12" fill="#f23645"/>
<rect x="1025" y="236" width="1" height="30" fill="#089981"/><rect x="1024" y="261" width="3" height="4" fill="#089981"/>
<rect x="1029" y="239" width="1" height="26" fill="#089981"/><rect x="1028" y="257" width="3" height="5" fill="#089981"/>
<rect x="1032" y="253" width="1" height="15" fill="#f23645"/><rect x="1031" y="258" width="3" height="4" fill="#f23645"/>
<rect x="1036" y="254" width="1" height="11" fill="#f23645"/><rect x="1035" y="259" width="3" height="6" fill="#f23645"/>
<rect x="1040" y="259" width="1" height="8" fill="#f23645"/><rect x="1039" y="264" width="3" height="1" fill="#f23645"/>
<rect x="1043" y="264" width="1" height="17" fill="#f23645"/><rect x="1042" y="264" width="3" height="10" fill="#f23645"/>
<rect x="1047" y="248" width="1" height="40" fill="#089981"/><rect x="1046" y="251" width="3" height="23" fill="#089981"/>
<rect x="1051" y="226" width="1" height="29" fill="#089981"/><rect x="1050" y="227" width="3" height="24" fill="#089981"/>
<rect x="1054" y="223" width="1" height="11" fill="#f23645"/><rect x="1053" y="227" width="3" height="4" fill="#f23645"/>
<rect x="1058" y="225" width="1" height="9" fill="#f23645"/><rect x="1057" y="230" width="3" height="1" fill="#f23645"/>
<rect x="1062" y="229" width="1" height="17" fill="#f23645"/><rect x="1061" y="231" width="3" height="13" fill="#f23645"/>
<rect x="1065" y="229" width="1" height="32" fill="#f23645"/><rect x="1064" y="243" width="3" height="17" fill="#f23645"/>
<rect x="1069" y="238" width="1" height="28" fill="#089981"/><rect x="1068" y="252" width="3" height="8" fill="#089981"/>
<rect x="1073" y="233" width="1" height="23" fill="#089981"/><rect x="1072" y="240" width="3" height="13" fill="#089981"/>
<rect x="1076" y="232" width="1" height="11" fill="#f23645"/><rect x="1075" y="240" width="3" height="1" fill="#f23645"/>
<rect x="1080" y="229" width="1" height="19" fill="#f23645"/><rect x="1079" y="242" width="3" height="1" fill="#f23645"/>
<rect x="1084" y="232" width="1" height="13" fill="#089981"/><rect x="1083" y="235" width="3" height="9" fill="#089981"/>
<rect x="1087" y="211" width="1" height="34" fill="#089981"/><rect x="1086" y="224" width="3" height="11" fill="#089981"/>
<rect x="1091" y="196" width="1" height="30" fill="#089981"/><rect x="1090" y="200" width="3" height="25" fill="#089981"/>
<rect x="1095" y="198" width="1" height="24" fill="#f23645"/><rect x="1094" y="200" width="3" height="13" fill="#f23645"/>
<rect x="1098" y="203" width="1" height="12" fill="#f23645"/><rect x="1097" y="212" width="3" height="2" fill="#f23645"/>
<rect x="1102" y="206" width="1" height="7" fill="#089981"/><rect x="1101" y="210" width="3" height="3" fill="#089981"/>
<rect x="1106" y="192" width="1" height="20" fill="#089981"/><rect x="1105" y="199" width="3" height="12" fill="#089981"/>
<rect x="1109" y="180" width="1" height="20" fill="#089981"/><rect x="1108" y="191" width="3" height="9" fill="#089981"/>
<rect x="1113" y="175" width="1" height="18" fill="#089981"/><rect x="1112" y="181" width="3" height="11" fill="#089981"/>
<rect x="1116" y="158" width="1" height="24" fill="#089981"/><rect x="1115" y="168" width="3" height="14" fill="#089981"/>
<rect x="1120" y="161" width="1" height="19" fill="#f23645"/><rect x="1119" y="169" width="3" height="10" fill="#f23645"/>
<rect x="1124" y="168" width="1" height="11" fill="#f23645"/><rect x="1123" y="173" width="3" height="6" fill="#f23645"/>
<rect x="1127" y="176" width="1" height="6" fill="#f23645"/><rect x="1126" y="178" width="3" height="3" fill="#f23645"/>
<rect x="1131" y="171" width="1" height="18" fill="#f23645"/><rect x="1130" y="180" width="3" height="2" fill="#f23645"/>
<rect x="1135" y="170" width="1" height="13" fill="#089981"/><rect x="1134" y="171" width="3" height="10" fill="#089981"/>
<rect x="1138" y="160" width="1" height="16" fill="#089981"/><rect x="1137" y="163" width="3" height="9" fill="#089981"/>
<rect x="1142" y="119" width="1" height="77" fill="#f23645"/><rect x="1141" y="164" width="3" height="30" fill="#f23645"/>
<rect x="1146" y="185" width="1" height="11" fill="#089981"/><rect x="1145" y="191" width="3" height="1" fill="#089981"/>
<rect x="1149" y="188" width="1" height="19" fill="#f23645"/><rect x="1148" y="191" width="3" height="16" fill="#f23645"/>
<rect x="1153" y="175" width="1" height="46" fill="#089981"/><rect x="1152" y="182" width="3" height="25" fill="#089981"/>
<rect x="1157" y="166" width="1" height="50" fill="#f23645"/><rect x="1156" y="182" width="3" height="34" fill="#f23645"/>
<rect x="1160" y="213" width="1" height="46" fill="#f23645"/><rect x="1159" y="214" width="3" height="32" fill="#f23645"/>
<rect x="1164" y="238" width="1" height="12" fill="#089981"/><rect x="1163" y="244" width="3" height="1" fill="#089981"/>
<rect x="1168" y="242" width="1" height="12" fill="#f23645"/><rect x="1167" y="245" width="3" height="3" fill="#f23645"/>
<rect x="1171" y="240" width="1" height="21" fill="#f23645"/><rect x="1170" y="248" width="3" height="4" fill="#f23645"/>
<rect x="1175" y="246" width="1" height="50" fill="#f23645"/><rect x="1174" y="251" width="3" height="34" fill="#f23645"/>
<rect x="1179" y="276" width="1" height="34" fill="#f23645"/><rect x="1178" y="284" width="3" height="23" fill="#f23645"/>
<rect x="1182" y="285" width="1" height="22" fill="#089981"/><rect x="1181" y="296" width="3" height="11" fill="#089981"/>
<rect x="1186" y="294" width="1" height="14" fill="#f23645"/><rect x="1185" y="296" width="3" height="10" fill="#f23645"/>
<rect x="1190" y="300" width="1" height="15" fill="#f23645"/><rect x="1189" y="300" width="3" height="8" fill="#f23645"/>
<rect x="1193" y="302" width="1" height="15" fill="#f23645"/><rect x="1192" y="307" width="3" height="7" fill="#f23645"/>
<rect x="1197" y="281" width="1" height="32" fill="#089981"/><rect x="1196" y="286" width="3" height="27" fill="#089981"/>
<rect x="1200" y="272" width="1" height="19" fill="#089981"/><rect x="1199" y="277" width="3" height="10" fill="#089981"/>
<rect x="1204" y="269" width="1" height="20" fill="#f23645"/><rect x="1203" y="277" width="3" height="1" fill="#f23645"/>
<rect x="1208" y="269" width="1" height="10" fill="#089981"/><rect x="1207" y="274" width="3" height="5" fill="#089981"/>
<rect x="1211" y="267" width="1" height="11" fill="#089981"/><rect x="1210" y="268" width="3" height="9" fill="#089981"/>
<rect x="1215" y="264" width="1" height="17" fill="#f23645"/><rect x="1214" y="269" width="3" height="10" fill="#f23645"/>
<rect x="1219" y="263" width="1" height="30" fill="#f23645"/><rect x="1218" y="278" width="3" height="4" fill="#f23645"/>
<rect x="1222" y="262" width="1" height="24" fill="#089981"/><rect x="1221" y="266" width="3" height="16" fill="#089981"/>
<rect x="1226" y="257" width="1" height="22" fill="#f23645"/><rect x="1225" y="266" width="3" height="3" fill="#f23645"/>
<rect x="1230" y="264" width="1" height="10" fill="#089981"/><rect x="1229" y="265" width="3" height="4" fill="#089981"/>
<rect x="1233" y="263" width="1" height="11" fill="#f23645"/><rect x="1232" y="265" width="3" height="8" fill="#f23645"/>
<rect x="1237" y="272" width="1" height="8" fill="#f23645"/><rect x="1236" y="273" width="3" height="5" fill="#f23645"/>
<rect x="1241" y="275" width="1" height="28" fill="#f23645"/><rect x="1240" y="277" width="3" height="19" fill="#f23645"/>
<rect x="1244" y="292" width="1" height="38" fill="#f23645"/><rect x="1243" y="295" width="3" height="29" fill="#f23645"/>
<rect x="1248" y="314" width="1" height="23" fill="#f23645"/><rect x="1247" y="323" width="3" height="3" fill="#f23645"/>
<rect x="1252" y="317" width="1" height="9" fill="#089981"/><rect x="1251" y="322" width="3" height="4" fill="#089981"/>
<rect x="1255" y="314" width="1" height="10" fill="#089981"/><rect x="1254" y="315" width="3" height="8" fill="#089981"/>
<rect x="1259" y="309" width="1" height="11" fill="#089981"/><rect x="1258" y="310" width="3" height="6" fill="#089981"/>
<rect x="1263" y="307" width="1" height="24" fill="#f23645"/><rect x="1262" y="310" width="3" height="9" fill="#f23645"/>
<rect x="1266" y="313" width="1" height="63" fill="#f23645"/><rect x="1265" y="318" width="3" height="50" fill="#f23645"/>
<rect x="1270" y="362" width="1" height="41" fill="#f23645"/><rect x="1269" y="368" width="3" height="33" fill="#f23645"/>
<rect x="1274" y="395" width="1" height="17" fill="#089981"/><rect x="1273" y="397" width="3" height="4" fill="#089981"/>
<rect x="1277" y="394" width="1" height="13" fill="#089981"/><rect x="1276" y="398" width="3" height="1" fill="#089981"/>
<rect x="1281" y="389" width="1" height="11" fill="#089981"/><rect x="1280" y="389" width="3" height="8" fill="#089981"/>
<rect x="1284" y="378" width="1" height="17" fill="#089981"/><rect x="1283" y="382" width="3" height="8" fill="#089981"/>
<rect x="1288" y="373" width="1" height="24" fill="#089981"/><rect x="1287" y="373" width="3" height="10" fill="#089981"/>
<rect x="1292" y="347" width="1" height="28" fill="#089981"/><rect x="1291" y="357" width="3" height="16" fill="#089981"/>
<rect x="1295" y="348" width="1" height="13" fill="#089981"/><rect x="1294" y="355" width="3" height="3" fill="#089981"/>
<rect x="1299" y="338" width="1" height="23" fill="#089981"/><rect x="1298" y="339" width="3" height="17" fill="#089981"/>
<rect x="1303" y="326" width="1" height="18" fill="#089981"/><rect x="1302" y="329" width="3" height="11" fill="#089981"/>
<rect x="1306" y="320" width="1" height="13" fill="#f23645"/><rect x="1305" y="329" width="3" height="2" fill="#f23645"/>
<rect x="1310" y="315" width="1" height="23" fill="#089981"/><rect x="1309" y="318" width="3" height="13" fill="#089981"/>
<rect x="1314" y="318" width="1" height="23" fill="#f23645"/><rect x="1313" y="318" width="3" height="17" fill="#f23645"/>
<rect x="1317" y="328" width="1" height="11" fill="#f23645"/><rect x="1316" y="334" width="3" height="1" fill="#f23645"/>
<rect x="1321" y="329" width="1" height="12" fill="#f23645"/><rect x="1320" y="335" width="3" height="4" fill="#f23645"/>
<rect x="1325" y="327" width="1" height="14" fill="#089981"/><rect x="1324" y="328" width="3" height="11" fill="#089981"/>
<rect x="1328" y="314" width="1" height="21" fill="#089981"/><rect x="1327" y="323" width="3" height="6" fill="#089981"/>
<rect x="1332" y="318" width="1" height="20" fill="#f23645"/><rect x="1331" y="323" width="3" height="3" fill="#f23645"/>
<rect x="1336" y="307" width="1" height="39" fill="#089981"/><rect x="1335" y="313" width="3" height="13" fill="#089981"/>
<rect x="1339" y="310" width="1" height="17" fill="#f23645"/><rect x="1338" y="313" width="3" height="12" fill="#f23645"/>
<rect x="1343" y="319" width="1" height="11" fill="#f23645"/><rect x="1342" y="324" width="3" height="4" fill="#f23645"/>
<rect x="1347" y="309" width="1" height="22" fill="#089981"/><rect x="1346" y="310" width="3" height="18" fill="#089981"/>
<rect x="1350" y="298" width="1" height="19" fill="#089981"/><rect x="1349" y="307" width="3" height="4" fill="#089981"/>
<rect x="1354" y="268" width="1" height="46" fill="#089981"/><rect x="1353" y="274" width="3" height="34" fill="#089981"/>
<rect x="1358" y="263" width="1" height="46" fill="#f23645"/><rect x="1357" y="274" width="3" height="29" fill="#f23645"/>
<rect x="1361" y="291" width="1" height="15" fill="#089981"/><rect x="1360" y="300" width="3" height="3" fill="#089981"/>
<rect x="1365" y="296" width="1" height="11" fill="#f23645"/><rect x="1364" y="300" width="3" height="7" fill="#f23645"/>
<rect x="1369" y="292" width="1" height="15" fill="#089981"/><rect x="1368" y="301" width="3" height="6" fill="#089981"/>
<rect x="1372" y="276" width="1" height="30" fill="#089981"/><rect x="1371" y="279" width="3" height="23" fill="#089981"/>
<rect x="1376" y="278" width="1" height="32" fill="#f23645"/><rect x="1375" y="280" width="3" height="29" fill="#f23645"/>
<rect x="1379" y="306" width="1" height="49" fill="#f23645"/><rect x="1378" y="308" width="3" height="20" fill="#f23645"/>
<rect x="1383" y="318" width="1" height="12" fill="#089981"/><rect x="1382" y="328" width="3" height="1" fill="#089981"/>
<rect x="1387" y="316" width="1" height="15" fill="#089981"/><rect x="1386" y="324" width="3" height="4" fill="#089981"/>
<rect x="1390" y="319" width="1" height="13" fill="#f23645"/><rect x="1389" y="324" width="3" height="7" fill="#f23645"/>
<rect x="1394" y="307" width="1" height="28" fill="#089981"/><rect x="1393" y="314" width="3" height="18" fill="#089981"/>
<rect x="1398" y="313" width="1" height="15" fill="#089981"/><rect x="1397" y="313" width="3" height="1" fill="#089981"/>
<rect x="1401" y="294" width="1" height="22" fill="#089981"/><rect x="1400" y="300" width="3" height="15" fill="#089981"/>
<rect x="1405" y="293" width="1" height="17" fill="#089981"/><rect x="1404" y="298" width="3" height="3" fill="#089981"/>
<rect x="1409" y="316" width="1" height="24" fill="#f23645"/><rect x="1408" y="327" width="3" height="1" fill="#f23645"/>
<rect x="1412" y="314" width="1" height="15" fill="#089981"/><rect x="1411" y="322" width="3" height="6" fill="#089981"/>
<rect x="1416" y="309" width="1" height="34" fill="#f23645"/><rect x="1415" y="322" width="3" height="9" fill="#f23645"/>
<rect x="1420" y="327" width="1" height="17" fill="#089981"/><rect x="1419" y="329" width="3" height="2" fill="#089981"/>
<rect x="1423" y="294" width="1" height="36" fill="#089981"/><rect x="1422" y="301" width="3" height="29" fill="#089981"/>
<rect x="1427" y="291" width="1" height="11" fill="#089981"/><rect x="1426" y="294" width="3" height="7" fill="#089981"/>
<rect x="1431" y="293" width="1" height="7" fill="#f23645"/><rect x="1430" y="294" width="3" height="3" fill="#f23645"/>
<rect x="1434" y="296" width="1" height="11" fill="#f23645"/><rect x="1433" y="296" width="3" height="11" fill="#f23645"/>
<rect x="1438" y="304" width="1" height="30" fill="#f23645"/><rect x="1437" y="306" width="3" height="24" fill="#f23645"/>
<rect x="1442" y="324" width="1" height="38" fill="#f23645"/><rect x="1441" y="329" width="3" height="18" fill="#f23645"/>
<rect x="1445" y="316" width="1" height="33" fill="#089981"/><rect x="1444" y="325" width="3" height="22" fill="#089981"/>
<rect x="1449" y="318" width="1" height="27" fill="#f23645"/><rect x="1448" y="325" width="3" height="13" fill="#f23645"/>
<rect x="1453" y="333" width="1" height="15" fill="#f23645"/><rect x="1452" y="334" width="3" height="12" fill="#f23645"/>
<rect x="1456" y="344" width="1" height="19" fill="#f23645"/><rect x="1455" y="345" width="3" height="17" fill="#f23645"/>
<rect x="1460" y="337" width="1" height="31" fill="#089981"/><rect x="1459" y="345" width="3" height="17" fill="#089981"/>
<rect x="1463" y="336" width="1" height="25" fill="#089981"/><rect x="1462" y="342" width="3" height="9" fill="#089981"/>
<rect x="1467" y="328" width="1" height="49" fill="#f23645"/><rect x="1466" y="342" width="3" height="24" fill="#f23645"/>
<rect x="1471" y="352" width="1" height="25" fill="#089981"/><rect x="1470" y="354" width="3" height="12" fill="#089981"/>
<rect x="1474" y="348" width="1" height="9" fill="#089981"/><rect x="1473" y="349" width="3" height="3" fill="#089981"/>
<rect x="1478" y="342" width="1" height="9" fill="#089981"/><rect x="1477" y="347" width="3" height="3" fill="#089981"/>
<rect x="1482" y="344" width="1" height="54" fill="#f23645"/><rect x="1481" y="347" width="3" height="38" fill="#f23645"/>
<rect x="1485" y="363" width="1" height="23" fill="#089981"/><rect x="1484" y="367" width="3" height="18" fill="#089981"/>
<rect x="1489" y="361" width="1" height="74" fill="#f23645"/><rect x="1488" y="367" width="3" height="67" fill="#f23645"/>
<rect x="1493" y="425" width="1" height="18" fill="#089981"/><rect x="1492" y="426" width="3" height="7" fill="#089981"/>
<rect x="1496" y="423" width="1" height="11" fill="#089981"/><rect x="1495" y="429" width="3" height="1" fill="#089981"/>
</g>
<line x1="10" y1="429.5" x2="1819" y2="429.5" stroke="#089981" stroke-width="1" stroke-dasharray="1 2" shape-rendering="crispEdges"/>
<g stroke="#4caf50" stroke-width="3" fill="none" stroke-linecap="round" stroke-linejoin="round">
<path d="M1544.3 440.5 L1558.3 365.5"/><path d="M1540.8 376.5 L1558.3 365.5 L1570.4 382.4"/>
</g>
<g font-size="13.3" stroke-width="0.2">
<text x="1723" y="353" fill="#e81224" stroke="#e81224" textLength="87.8" lengthAdjust="spacingAndGlyphs">1st Resistance</text>
<text x="1780.4" y="437" fill="#2962ff" stroke="#2962ff" textLength="30.4" lengthAdjust="spacingAndGlyphs">Pivot</text>
<text x="1740.7" y="536.5" fill="#4caf50" stroke="#4caf50" textLength="70.1" lengthAdjust="spacingAndGlyphs">1st Support</text>
</g>
<path d="M1820 352H1874a2 2 0 0 1 2 2V367a2 2 0 0 1 -2 2H1820Z" fill="#e81224"/>
<text x="1828.7" y="365" font-size="12.3" fill="#fff" fill-opacity="1" font-weight="bold" textLength="41.5" lengthAdjust="spacingAndGlyphs">1.33949</text>
<path d="M1820 421H1874a2 2 0 0 1 2 2V450a2 2 0 0 1 -2 2H1820Z" fill="#089981"/>
<text x="1828.7" y="434" font-size="12.3" fill="#fff" fill-opacity="1" font-weight="bold" textLength="41.5" lengthAdjust="spacingAndGlyphs">1.32998</text>
<text x="1828.7" y="448" font-size="12.3" fill="#fff" fill-opacity="0.75" textLength="29" lengthAdjust="spacingAndGlyphs">23:22</text>
<path d="M1820 452H1874a2 2 0 0 1 2 2V467a2 2 0 0 1 -2 2H1820Z" fill="#2962ff"/>
<text x="1828.7" y="465" font-size="12.3" fill="#fff" fill-opacity="1" font-weight="bold" textLength="41.5" lengthAdjust="spacingAndGlyphs">1.32794</text>
<path d="M1820 536H1874a2 2 0 0 1 2 2V551a2 2 0 0 1 -2 2H1820Z" fill="#4caf50"/>
<text x="1828.7" y="549" font-size="12.3" fill="#fff" fill-opacity="1" font-weight="bold" textLength="41.5" lengthAdjust="spacingAndGlyphs">1.31419</text>
</svg></body></html>
